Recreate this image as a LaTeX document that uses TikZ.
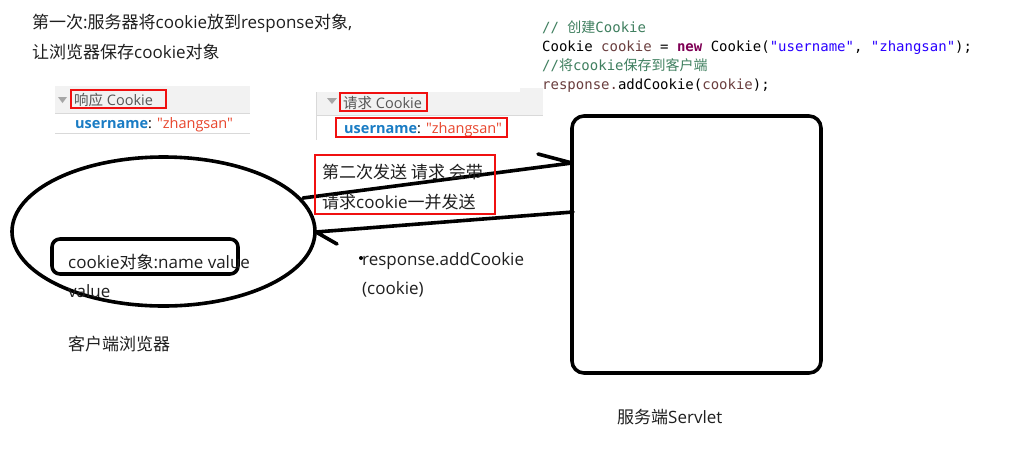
\documentclass[tikz,border=0pt]{standalone}
\usepackage{fontspec}
\setmainfont{Open Sans}[Ligatures=TeXOff]
\newfontfamily\cjk{Noto Sans CJK SC}[Ligatures=TeXOff]
\newfontfamily\codefont{DejaVu Sans Mono}[Ligatures=TeXOff]
\usetikzlibrary{shapes.geometric}
\definecolor{cmt}{HTML}{3F7F5F}
\definecolor{kw}{HTML}{7F0055}
\definecolor{str}{HTML}{2A00FF}
\definecolor{var}{HTML}{6A3E3E}
\definecolor{ukey}{HTML}{1A7CC4}
\definecolor{uval}{HTML}{E8452C}
\definecolor{hdr}{HTML}{F2F2F2}
\definecolor{hdrtxt}{HTML}{555555}
\definecolor{redbox}{HTML}{F01010}
\tikzset{
  txt/.style={anchor=base west, inner sep=0pt, font=\fontsize{17}{20}\selectfont, text=black!88},
  code/.style={anchor=base west, inner sep=0pt, font=\codefont\fontsize{14}{16}\selectfont},
  small/.style={anchor=base west, inner sep=0pt, font=\fontsize{14.5}{17}\selectfont},
  thick line/.style={line width=3.6pt, line cap=round, line join=round},
  red frame/.style={draw=redbox, line width=1.4pt},
}
\begin{document}
\begin{tikzpicture}[x=1pt,y=-1pt]
\useasboundingbox[fill=white] (0,0) rectangle (1034,451);

% title
\node[txt] (t1) at (32,28) {{\cjk 第一次}:{\cjk 服务器将}cookie{\cjk 放到}response{\cjk 对象},};
\node[txt] (t2) at (32,58) {{\cjk 让浏览器保存}cookie{\cjk 对象}};

% code
\fill[hdr] (520,88) rectangle (543,100);
\node[code,text=cmt] (c1) at (542,32) {// {\cjk 创建}Cookie};
\node[code] (c2) at (542,51) {Cookie \textcolor{var}{cookie} = \textcolor{kw}{\bfseries new} Cookie(\textcolor{str}{"username"}, \textcolor{str}{"zhangsan"});};
\node[code,text=cmt] (c3) at (542,70) {//{\cjk 将}cookie{\cjk 保存到客户端}};
\node[code,text=var] (c4) at (542,89) {response.\textcolor{black}{addCookie(}cookie\textcolor{black}{);}};

% panel 1 (response cookie)
\fill[hdr] (55,86) rectangle (250,113);
\draw[black!15] (55,113) -- (250,113);
\draw[black!15] (55,133) -- (250,133);
\fill[black!35] (58,97) -- (67,97) -- (62.5,103) -- cycle;
\node[small,text=hdrtxt] (h1) at (74,105) {{\cjk 响应} Cookie};
\draw[red frame] (71,90) rectangle (166,108);
\node[small] (u1) at (75,128) {\textcolor{ukey}{\bfseries username}: \textcolor{uval}{"zhangsan"}};

% panel 2 (request cookie)
\fill[hdr] (316,92) rectangle (543,115);
\draw[black!15] (316,92) -- (316,140);
\draw[black!15] (316,115) -- (543,115);
\fill[black!35] (327,98) -- (337,98) -- (332,104) -- cycle;
\node[small,text=hdrtxt] (h2) at (343,108) {{\cjk 请求} Cookie};
\draw[red frame] (340,93) rectangle (427,111);
\node[small] (u2) at (344,133) {\textcolor{ukey}{\bfseries username}: \textcolor{uval}{"zhangsan"}};
\draw[red frame] (336,118) rectangle (507,137);

% browser
\node[draw, thick line, ellipse, minimum width=303pt, minimum height=149pt, inner sep=0pt] (browser) at (163.5,231.5) {};
\node[draw, thick line, rounded corners=8pt, minimum width=186pt, minimum height=35pt, inner sep=0pt] (cobj) at (145,256.5) {};
\node[txt] (ct1) at (68,268) {cookie{\cjk 对象}:name value};
\node[txt] (ct2) at (68,297) {value};
\node[txt] (ct3) at (68,350) {\cjk 客户端浏览器};

% server
\node[draw, thick line, rounded corners=12pt, minimum width=249pt, minimum height=257pt, inner sep=0pt] (server) at (696.5,244.5) {};
\node[txt] (st) at (617,423) {{\cjk 服务端}Servlet};

% arrows
\coordinate (a1s) at (303,198);
\coordinate (a1e) at (572,163);
\coordinate (a2s) at (573,212);
\coordinate (a2e) at (316,232);
\draw[thick line] (a1s) -- (a1e) -- ++(-34,-9);
\draw[thick line] (a2s) -- (a2e) -- ++(21,12);

% second request label
\node[txt] (r1) at (322,178) {\cjk 第二次发送 请求 会带};
\node[txt] (r2) at (322,208) {{\cjk 请求}cookie{\cjk 一并发送}};
\draw[red frame] (315,155) rectangle (495,214);

% response label
\fill (361,258) circle (2pt);
\node[txt] (p1) at (362,265) {response.addCookie};
\node[txt] (p2) at (362,294) {(cookie)};
\end{tikzpicture}
\end{document}
